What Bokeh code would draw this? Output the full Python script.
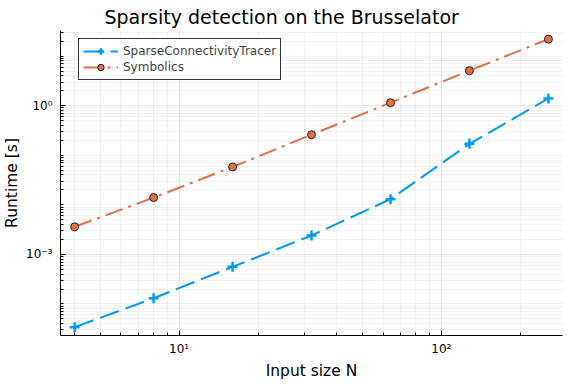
from bokeh.plotting import figure
from bokeh.models import Range1d, FixedTicker, Legend, LegendItem
from bokeh.embed import file_html
from bokeh.resources import INLINE

# ---- data ----
N = [4, 8, 16, 32, 64, 128, 256]
sct_runtime = [3.4e-5, 1.3e-4, 5.6e-4, 2.4e-3, 1.3e-2, 0.17, 1.4]
sym_runtime = [3.6e-3, 1.4e-2, 5.8e-2, 0.26, 1.15, 5.1, 22.0]

x_major = [10, 100]
x_labels = ["10\u00b9", "10\u00b2"]
y_major = [1e-3, 1]
y_labels = ["10\u207b\u00b3", "10\u2070"]

FONT = "DejaVu Sans"
BLUE = "#009AFA"
ORANGE = "#E36F47"

p = figure(frame_width=502, frame_height=305,
           min_border_left=55, min_border_right=3, min_border_top=30, min_border_bottom=38,
           x_axis_type="log", y_axis_type="log",
           x_range=Range1d(10 ** 0.548, 10 ** 2.462),
           y_range=Range1d(10 ** -4.637, 10 ** 1.517),
           output_backend="svg", toolbar_location=None,
           title="Sparsity detection on the Brusselator")

p.title.text_font = FONT
p.title.text_font_size = "19px"
p.title.text_font_style = "normal"
p.title.text_color = "black"
p.title.align = "left"
p.title.vertical_align = "top"
p.title.offset = 44
p.title.standoff = 2
p.outline_line_color = None
p.background_fill_color = "white"

# minor tick positions (2..9 multiples of each decade)
x_minor = [k * 10 ** d for d in range(0, 3) for k in range(1, 10)
           if k * 10 ** d not in x_major and 3.5 <= k * 10 ** d <= 300]
y_minor = [k * 10.0 ** d for d in range(-5, 2) for k in range(1, 10)
           if not any(abs(k * 10.0 ** d - m) < 1e-12 for m in y_major)]

p.xaxis.ticker = FixedTicker(ticks=x_major, minor_ticks=x_minor)
p.yaxis.ticker = FixedTicker(ticks=y_major, minor_ticks=y_minor)
p.xaxis.major_label_overrides = dict(zip(x_major, x_labels))
p.yaxis.major_label_overrides = dict(zip(y_major, y_labels))

for ax in (p.xaxis[0], p.yaxis[0]):
    ax.major_tick_in = 5
    ax.major_tick_out = 0
    ax.minor_tick_in = 3
    ax.minor_tick_out = 0
    ax.axis_line_color = "black"
    ax.major_tick_line_color = "black"
    ax.minor_tick_line_color = "black"
    ax.major_label_text_font = FONT
    ax.major_label_text_font_size = "12px"
    ax.major_label_text_color = "black"
    ax.axis_label_text_font = FONT
    ax.axis_label_text_font_size = "15.5px"
    ax.axis_label_text_font_style = "normal"
    ax.axis_label_text_color = "black"

p.xaxis.axis_label = "Input size N"
p.yaxis.axis_label = "Runtime [s]"
p.xaxis.major_label_standoff = 6
p.yaxis.major_label_standoff = 8
p.xaxis.axis_label_standoff = 3
p.yaxis.axis_label_standoff = 2

for g in (p.xgrid[0], p.ygrid[0]):
    g.grid_line_color = "black"
    g.grid_line_alpha = 0.1
    g.minor_grid_line_color = "black"
    g.minor_grid_line_alpha = 0.05

l1 = p.line(N, sct_runtime, line_color=BLUE, line_width=2, line_dash="20 7")
s1 = p.scatter(N, sct_runtime, marker="cross", size=10, line_color=BLUE, line_width=2.5)
l2 = p.line(N, sym_runtime, line_color=ORANGE, line_width=2, line_dash="18 6 3 6")
s2 = p.scatter(N, sym_runtime, marker="circle", size=8, fill_color=ORANGE,
               line_color="#222222", line_width=1)

legend = Legend(items=[LegendItem(label="SparseConnectivityTracer", renderers=[l1, s1]),
                       LegendItem(label="Symbolics", renderers=[l2, s2])],
                location=(18, 255), padding=4, spacing=0, margin=0,
                glyph_width=35, glyph_height=16, label_height=14, label_standoff=5,
                label_text_font=FONT, label_text_font_size="12px",
                border_line_color="black", border_line_alpha=0.8, border_line_width=1,
                background_fill_color="white", background_fill_alpha=1.0)
p.add_layout(legend, "center")

open("out.html", "w").write(file_html(p, INLINE))
